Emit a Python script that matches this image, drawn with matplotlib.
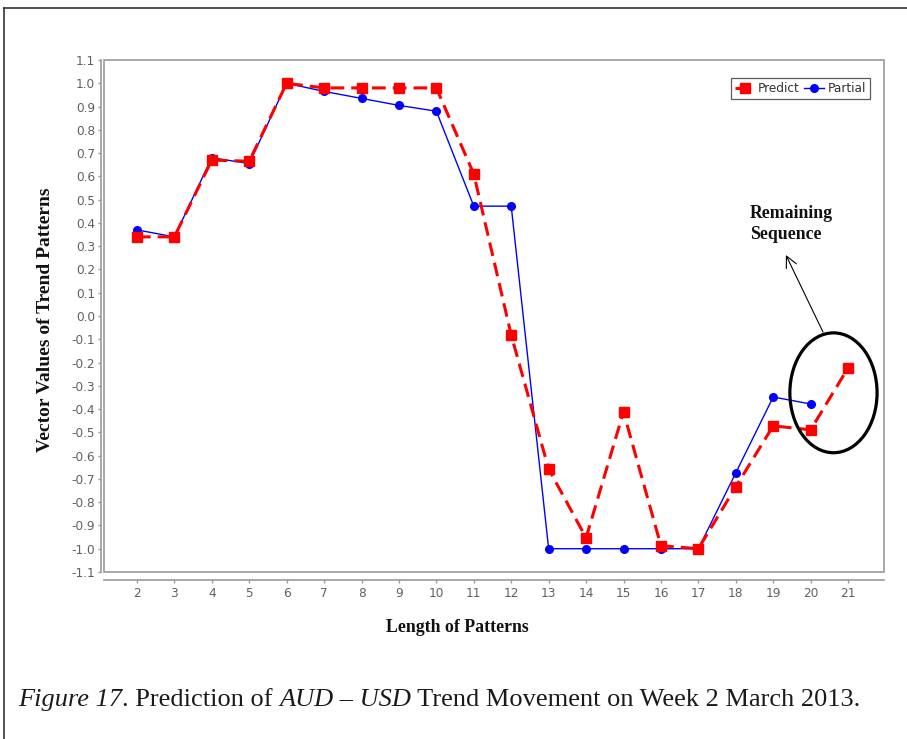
import matplotlib
matplotlib.use("Agg")
import matplotlib.pyplot as plt
from matplotlib.patches import Ellipse, Rectangle
from matplotlib.lines import Line2D

# data
pattern_len = [2, 3, 4, 5, 6, 7, 8, 9, 10, 11, 12, 13, 14, 15, 16, 17, 18, 19, 20, 21]
predict = [0.34, 0.34, 0.67, 0.665, 1.0, 0.98, 0.98, 0.98, 0.98, 0.61, -0.082,
           -0.657, -0.953, -0.412, -0.987, -1.0, -0.734, -0.472, -0.489, -0.223]
partial_len = [2, 3, 4, 5, 6, 7, 8, 9, 10, 11, 12, 13, 14, 15, 16, 17, 18, 19, 20]
partial = [0.37, 0.34, 0.68, 0.655, 1.0, 0.965, 0.935, 0.905, 0.88, 0.472, 0.472,
           -1.0, -1.0, -1.0, -1.0, -1.0, -0.674, -0.348, -0.378]
y_ticks = [round(-1.1 + 0.1 * i, 1) for i in range(23)]

W, H = 907, 739
fig = plt.figure(figsize=(W / 100, H / 100), dpi=100)

# plot box in pixel terms
left, right, top, bottom = 104, 884, 60, 572
ax = fig.add_axes([left / W, 1 - bottom / H, (right - left) / W, (bottom - top) / H])

grey = "#9a9a9a"
ax.plot(partial_len, partial, color="#0000ff", lw=1.0, marker="o", ms=5.5,
        label="Partial", zorder=3)
ax.plot(pattern_len, predict, color="#ff0000", lw=2.2, ls=(0, (4.5, 2.3)),
        marker="s", ms=6.5, label="Predict", zorder=4)

ax.set_xlim(1.12, 21.96)
ax.set_ylim(-1.1, 1.1)
ax.set_xticks(pattern_len)
ax.set_yticks(y_ticks)
ax.set_yticklabels([f"{v:.1f}" for v in y_ticks])

for s in ["top", "right"]:
    ax.spines[s].set_visible(False)
ax.spines["left"].set_position(("outward", 2))
ax.spines["bottom"].set_position(("outward", 6))
for s in ["left", "bottom"]:
    ax.spines[s].set_color(grey)
    ax.spines[s].set_linewidth(1.2)
ax.add_patch(Rectangle((0, 0), 1, 1, transform=ax.transAxes, fill=False,
                       edgecolor=grey, lw=1.2, clip_on=False, zorder=5))
ax.tick_params(colors=grey, labelcolor="#606060", labelsize=8.7, length=2.5, width=1, pad=2)

# axis titles placed where the original has them
fig.text(457 / W, 1 - 628 / H, "Length of Patterns", family="Liberation Serif",
         fontweight="bold", fontsize=12.8, ha="center", va="center", color="#111111")
fig.text(46 / W, 1 - 320 / H, "Vector Values of Trend Patterns", family="Liberation Serif",
         fontweight="bold", fontsize=14, ha="center", va="center", rotation=90,
         color="#111111")

# legend: Predict first
h, l = ax.get_legend_handles_labels()
leg = ax.legend(h[::-1], l[::-1], loc="upper right", bbox_to_anchor=(0.982, 0.965),
                ncol=2, fontsize=8.7, frameon=True, fancybox=False, handlelength=1.6,
                handletextpad=0.3, columnspacing=0.4, borderpad=0.35, borderaxespad=0)
leg.get_frame().set_edgecolor("#333333")
leg.get_frame().set_linewidth(0.9)
for t in leg.get_texts():
    t.set_color("#333333")

# remaining sequence annotation
ax.add_patch(Ellipse((20.61, -0.33), 2.33, 0.515, fill=False, edgecolor="black",
                     lw=2.3, zorder=6))
ax.annotate("", xy=(19.34, 0.262), xytext=(20.33, -0.069),
            arrowprops=dict(arrowstyle="->", color="black", lw=0.8,
                            mutation_scale=20, shrinkA=0, shrinkB=0))
ax.text(18.38, 0.475, "Remaining\nSequence", family="Liberation Serif", fontweight="bold",
        fontsize=12.8, ha="left", va="top", linespacing=1.3, color="#111111")

# outer frame
fig.add_artist(Line2D([4 / W, 4 / W], [0, 1 - 8 / H], transform=fig.transFigure,
                      color="#333333", lw=1.2))
fig.add_artist(Line2D([4 / W, 1], [1 - 8 / H, 1 - 8 / H], transform=fig.transFigure,
                      color="#333333", lw=1.2))

# caption with mixed italic / roman pieces
pieces = [("Figure 17", "italic"), (". Prediction of ", "normal"), ("AUD \u2013 USD", "italic"),
          (" Trend Movement on Week 2 March 2013.", "normal")]
renderer = fig.canvas.get_renderer()
x = 18 / W
for txt, style in pieces:
    t = fig.text(x, 1 - 706 / H, txt, family="Liberation Serif", style=style,
                 fontsize=19, ha="left", va="baseline", color="#1a1a1a")
    bb = t.get_window_extent(renderer=renderer)
    x = bb.x1 / W

fig.savefig("out.png", dpi=100, facecolor="white")
